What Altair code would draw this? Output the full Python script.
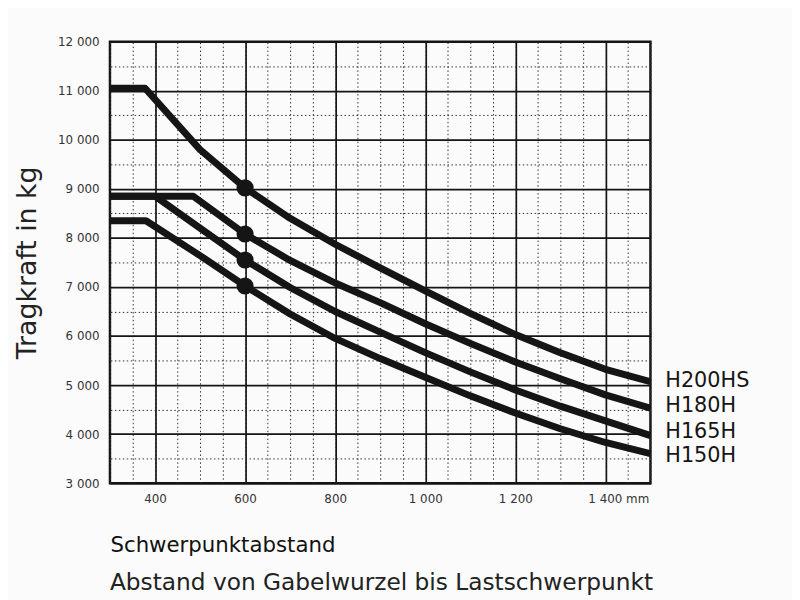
import altair as alt
import pandas as pd

# Series (Schwerpunktabstand in mm -> Tragkraft in kg)
models = ["H200HS", "H180H", "H165H", "H150H"]

h200hs_mm = [300, 378, 500, 600, 700, 800, 900, 1000, 1100, 1200, 1300, 1400, 1500]
h200hs_kg = [11050, 11050, 9800, 9020, 8400, 7870, 7390, 6920, 6460, 6030, 5660, 5320, 5070]

h180h_mm = [300, 485, 600, 700, 800, 900, 1000, 1100, 1200, 1300, 1400, 1500]
h180h_kg = [8850, 8850, 8080, 7540, 7080, 6680, 6250, 5850, 5470, 5130, 4800, 4530]

h165h_mm = [300, 400, 500, 600, 700, 800, 900, 1000, 1100, 1200, 1300, 1400, 1500]
h165h_kg = [8850, 8850, 8200, 7550, 6990, 6500, 6080, 5660, 5270, 4900, 4570, 4270, 3970]

h150h_mm = [300, 380, 500, 600, 700, 800, 900, 1000, 1100, 1200, 1300, 1400, 1500]
h150h_kg = [8350, 8350, 7640, 7020, 6450, 5950, 5540, 5160, 4780, 4430, 4110, 3830, 3600]

# Where each model name sits at the right-hand edge (kg level of the label)
label_kg = [5080, 4575, 4050, 3545]

# Axis ticks / grid values
x_major = [400, 600, 800, 1000, 1200, 1400]
x_minor = list(range(300, 1501, 50))
y_major = list(range(3000, 12001, 1000))
y_minor = list(range(3500, 12000, 1000))

marker_mm = 600
label_mm = 1500

x_title_1 = "Schwerpunktabstand"
x_title_2 = "Abstand von Gabelwurzel bis Lastschwerpunkt"
y_title = "Tragkraft in kg"

rows = []
for name, xs, ys in zip(models,
                        [h200hs_mm, h180h_mm, h165h_mm, h150h_mm],
                        [h200hs_kg, h180h_kg, h165h_kg, h150h_kg]):
    for x, y in zip(xs, ys):
        rows.append({"model": name, "mm": x, "kg": y})
df = pd.DataFrame(rows)

label_df = pd.DataFrame({"model": models, "mm": [label_mm] * len(models), "kg": label_kg})

x_scale = alt.Scale(domain=[300, 1500], nice=False, zero=False)
y_scale = alt.Scale(domain=[3000, 12000], nice=False, zero=False)

FONT = "DejaVu Sans"
INK = "#151515"

base = alt.Chart(df)

minor = base.mark_point(opacity=0).encode(
    x=alt.X("mm:Q", scale=x_scale,
            axis=alt.Axis(values=x_minor, grid=True, gridColor="#333333", gridWidth=1,
                          gridDash=[1.5, 2.5], labels=False, ticks=False, domain=False,
                          title=None, orient="top")),
    y=alt.Y("kg:Q", scale=y_scale,
            axis=alt.Axis(values=y_minor, grid=True, gridColor="#333333", gridWidth=1,
                          gridDash=[1.5, 2.5], labels=False, ticks=False, domain=False,
                          title=None, orient="right")),
)

lines = base.mark_line(color=INK, strokeWidth=7, strokeJoin="round", clip=True).encode(
    x=alt.X("mm:Q", scale=x_scale,
            axis=alt.Axis(values=x_major, grid=True, gridColor=INK, gridWidth=1.7,
                          ticks=False, domain=False, orient="bottom",
                          labelExpr="datum.value == 1400 ? '1 400 mm' : replace(format(datum.value, ','), ',', ' ')",
                          labelOffset={"condition": {"test": "datum.value == 1400", "value": 13}, "value": 0},
                          labelFont=FONT, labelFontSize=12, labelColor="#333333", labelPadding=11,
                          title=x_title_1,
                          titleAnchor="start", titleAlign="left", titleFont=FONT, titleFontSize=21.5,
                          titleFontWeight="normal", titleColor="#111111",
                          titlePadding=30)),
    y=alt.Y("kg:Q", scale=y_scale,
            axis=alt.Axis(values=y_major, grid=True, gridColor=INK, gridWidth=1.7,
                          ticks=False, domain=False, orient="left",
                          labelExpr="replace(format(datum.value, ','), ',', ' ')",
                          labelFont=FONT, labelFontSize=12, labelColor="#333333", labelPadding=11,
                          title=y_title, titleFont=FONT, titleFontSize=27,
                          titleFontWeight="normal", titleColor="#222222", titlePadding=16)),
    detail="model:N",
)

dots = base.transform_filter(f"datum.mm == {marker_mm}").mark_circle(
    size=300, color=INK, opacity=1).encode(
    x=alt.X("mm:Q", scale=x_scale, axis=None),
    y=alt.Y("kg:Q", scale=y_scale, axis=None),
)

labels = alt.Chart(label_df).mark_text(
    align="left", baseline="middle", dx=15, font=FONT, fontSize=21, color=INK).encode(
    x=alt.X("mm:Q", scale=x_scale, axis=None),
    y=alt.Y("kg:Q", scale=y_scale, axis=None),
    text="model:N",
)

chart = alt.layer(minor, lines, dots, labels).resolve_axis(
    x="independent", y="independent"
).properties(
    width=546, height=446,
    padding={"left": 103, "top": 31, "right": 143, "bottom": 115},
    autosize=alt.AutoSizeParams(type="none"),
    background="#fbfbfb",
    title=alt.TitleParams(text=x_title_2, orient="bottom", anchor="start", frame="group",
                          font=FONT, fontSize=23.5, fontWeight="normal", color="#222222",
                          offset=15),
).configure_view(stroke=INK, strokeWidth=2.5)

chart.save("out.html", embed_options={"renderer": "svg", "actions": False})
